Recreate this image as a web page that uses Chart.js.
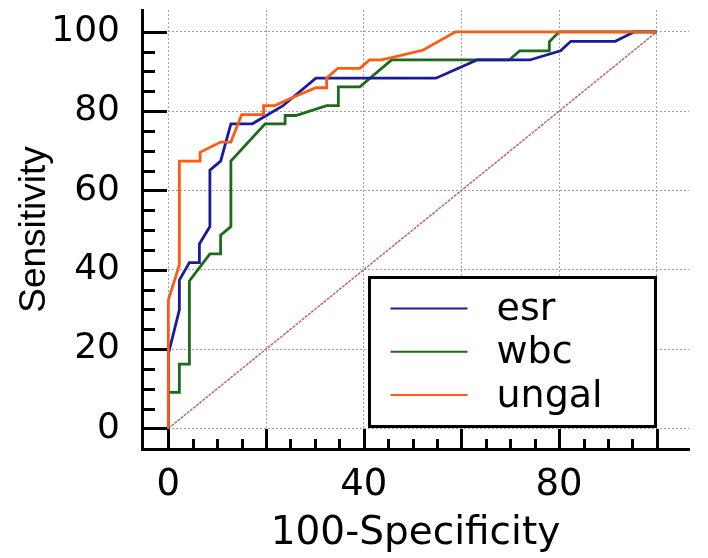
<!DOCTYPE html>
<html><head><meta charset="utf-8">
<script src="https://cdn.jsdelivr.net/npm/chart.js@4.4.1/dist/chart.umd.min.js"></script>
<style>html,body{margin:0;padding:0;background:#fff;}</style>
</head><body>
<canvas id="c" width="708" height="558"></canvas>
<script>
// ---- data ----
const seriesNames = ['esr', 'wbc', 'ungal'];
const esrX = [0, 0, 2.25, 2.25, 4.3, 6.35, 6.35, 8.5, 8.5, 10.7, 12.8, 17.2, 23.4, 30.2, 54.8, 63.2, 74.0, 80.3, 82.4, 91.5, 95.4, 100];
const esrY = [0, 18.8, 29.9, 37.4, 41.8, 41.8, 46.5, 50.9, 65.1, 67.4, 76.8, 76.8, 81.3, 88.3, 88.3, 92.9, 92.9, 95.2, 97.6, 97.6, 100, 100];
const wbcX = [0, 0, 2.25, 2.25, 4.3, 4.3, 8.5, 10.7, 10.7, 12.8, 12.8, 19.8, 23.9, 23.9, 26.1, 32.4, 34.8, 34.8, 39.2, 45.7, 69.8, 71.9, 78.0, 78.0, 80.0, 100];
const wbcY = [0, 9.1, 9.1, 16.2, 16.2, 37.2, 44.0, 44.0, 48.7, 50.9, 67.4, 76.8, 76.8, 78.9, 78.9, 81.4, 81.4, 86.1, 86.1, 92.9, 92.9, 95.2, 95.2, 97.5, 100, 100];
const ungalX = [0, 0, 2.25, 2.25, 6.5, 6.5, 10.7, 12.8, 15.0, 19.5, 19.5, 21.8, 25.9, 30.2, 32.4, 32.4, 34.7, 39.2, 41.2, 43.6, 45.7, 52.2, 58.8, 100];
const ungalY = [0, 32.4, 41.2, 67.4, 67.4, 69.6, 72.2, 72.2, 79.1, 79.1, 81.4, 81.4, 83.7, 85.9, 85.9, 88.3, 90.8, 90.8, 92.9, 92.9, 93.5, 95.4, 100, 100];
const diagX = [0, 100];
const diagY = [0, 100];
const gridValues = [0, 20, 40, 60, 80, 100];
const xTickLabels = ['0', '', '40', '', '80', ''];
const yTickLabels = ['0', '20', '40', '60', '80', '100'];
const minorStep = 5;
const xTitle = '100-Specificity';
const yTitle = 'Sensitivity';

// ---- styles ----
const colors = { esr: '#1a1a9e', wbc: '#1b6b1b', ungal: '#ff5a12' };
const toPts = (xs, ys) => xs.map((x, i) => ({ x: x, y: ys[i] }));

const decor = {
  id: 'decor',
  afterDraw(chart) {
    const ctx = chart.ctx;
    const xs = chart.scales.x, ys = chart.scales.y;
    const ax = chart.chartArea.left, ay = chart.chartArea.bottom;
    ctx.save();
    ctx.strokeStyle = '#000';
    ctx.lineWidth = 3;
    ctx.lineCap = 'butt';
    for (let v = gridValues[0]; v <= gridValues[gridValues.length - 1]; v += minorStep) {
      const major = gridValues.includes(v);
      const py = Math.round(ys.getPixelForValue(v)) + 0.5;
      ctx.beginPath(); ctx.moveTo(ax, py); ctx.lineTo(ax + (major ? 25 : 13), py); ctx.stroke();
      const px = Math.round(xs.getPixelForValue(v)) + 0.5;
      ctx.beginPath(); ctx.moveTo(px, ay); ctx.lineTo(px, ay - (major ? 20 : 10)); ctx.stroke();
    }
    // legend
    const box = { left: 369.5, top: 277.5, w: 286, h: 149 };
    ctx.fillStyle = '#fff';
    ctx.fillRect(box.left, box.top, box.w, box.h);
    ctx.lineWidth = 3;
    ctx.strokeStyle = '#000';
    ctx.strokeRect(box.left, box.top, box.w, box.h);
    ctx.font = '38px "DejaVu Sans"';
    ctx.textBaseline = 'alphabetic';
    ctx.textAlign = 'left';
    let i = 0;
    chart.data.datasets.forEach(ds => {
      if (!seriesNames.includes(ds.label)) return;
      const y = box.top + 31 + i * 43.3;
      ctx.strokeStyle = ds.borderColor;
      ctx.lineWidth = 2;
      ctx.beginPath(); ctx.moveTo(box.left + 21, y); ctx.lineTo(box.left + 98, y); ctx.stroke();
      ctx.fillStyle = '#000';
      ctx.fillText(ds.label, box.left + 127, y + 11.5);
      i++;
    });
    ctx.restore();
  }
};

const fixFit = (size, key) => (scale) => {
  scale[key] = size;
  scale.paddingLeft = 0; scale.paddingRight = 0; scale.paddingTop = 0; scale.paddingBottom = 0;
};

new Chart(document.getElementById('c'), {
  type: 'scatter',
  data: {
    datasets: [
      { label: 'diag', data: toPts(diagX, diagY), showLine: true, borderColor: '#c06868', borderWidth: 1.5, borderDash: [3, 1], pointRadius: 0, order: 3 },
      { label: 'esr', data: toPts(esrX, esrY), showLine: true, borderColor: colors.esr, borderWidth: 2.8, pointRadius: 0, order: 1 },
      { label: 'wbc', data: toPts(wbcX, wbcY), showLine: true, borderColor: colors.wbc, borderWidth: 2.8, pointRadius: 0, order: 2 },
      { label: 'ungal', data: toPts(ungalX, ungalY), showLine: true, borderColor: colors.ungal, borderWidth: 2.8, pointRadius: 0, order: 0 }
    ]
  },
  options: {
    responsive: false,
    animation: false,
    devicePixelRatio: 1,
    layout: { padding: { left: 0, top: 10, right: 19, bottom: 0 } },
    plugins: { legend: { display: false }, tooltip: { enabled: false } },
    elements: { line: { tension: 0 } },
    scales: {
      x: {
        type: 'linear', min: -5.4, max: 106.6,
        afterBuildTicks: (s) => { s.ticks = gridValues.map(v => ({ value: v })); },
        afterFit: fixFit(109, 'height'),
        ticks: {
          padding: 14, color: '#000', font: { family: 'DejaVu Sans', size: 37 },
          maxRotation: 0, autoSkip: false,
          callback: (v, idx) => xTickLabels[idx]
        },
        grid: { color: '#a0a0a0', lineWidth: 1, drawTicks: false },
        border: { display: true, color: '#000', width: 3, dash: [2, 2] },
        title: { display: true, text: xTitle, color: '#000', font: { family: 'DejaVu Sans', size: 39 }, padding: { top: 0, bottom: 1 } }
      },
      y: {
        type: 'linear', min: -5.2, max: 105.5,
        afterBuildTicks: (s) => { s.ticks = gridValues.map(v => ({ value: v })); },
        afterFit: fixFit(142, 'width'),
        ticks: {
          padding: 22, color: '#000', font: { family: 'DejaVu Sans', size: 36 },
          autoSkip: false,
          callback: (v, idx) => yTickLabels[idx]
        },
        grid: { color: '#a0a0a0', lineWidth: 1, drawTicks: false },
        border: { display: true, color: '#000', width: 3, dash: [2, 2] },
        title: { display: true, text: yTitle, color: '#000', font: { family: 'Liberation Sans', size: 37 }, padding: { top: 13, bottom: 0 } }
      }
    }
  },
  plugins: [decor]
});
</script>
</body></html>
